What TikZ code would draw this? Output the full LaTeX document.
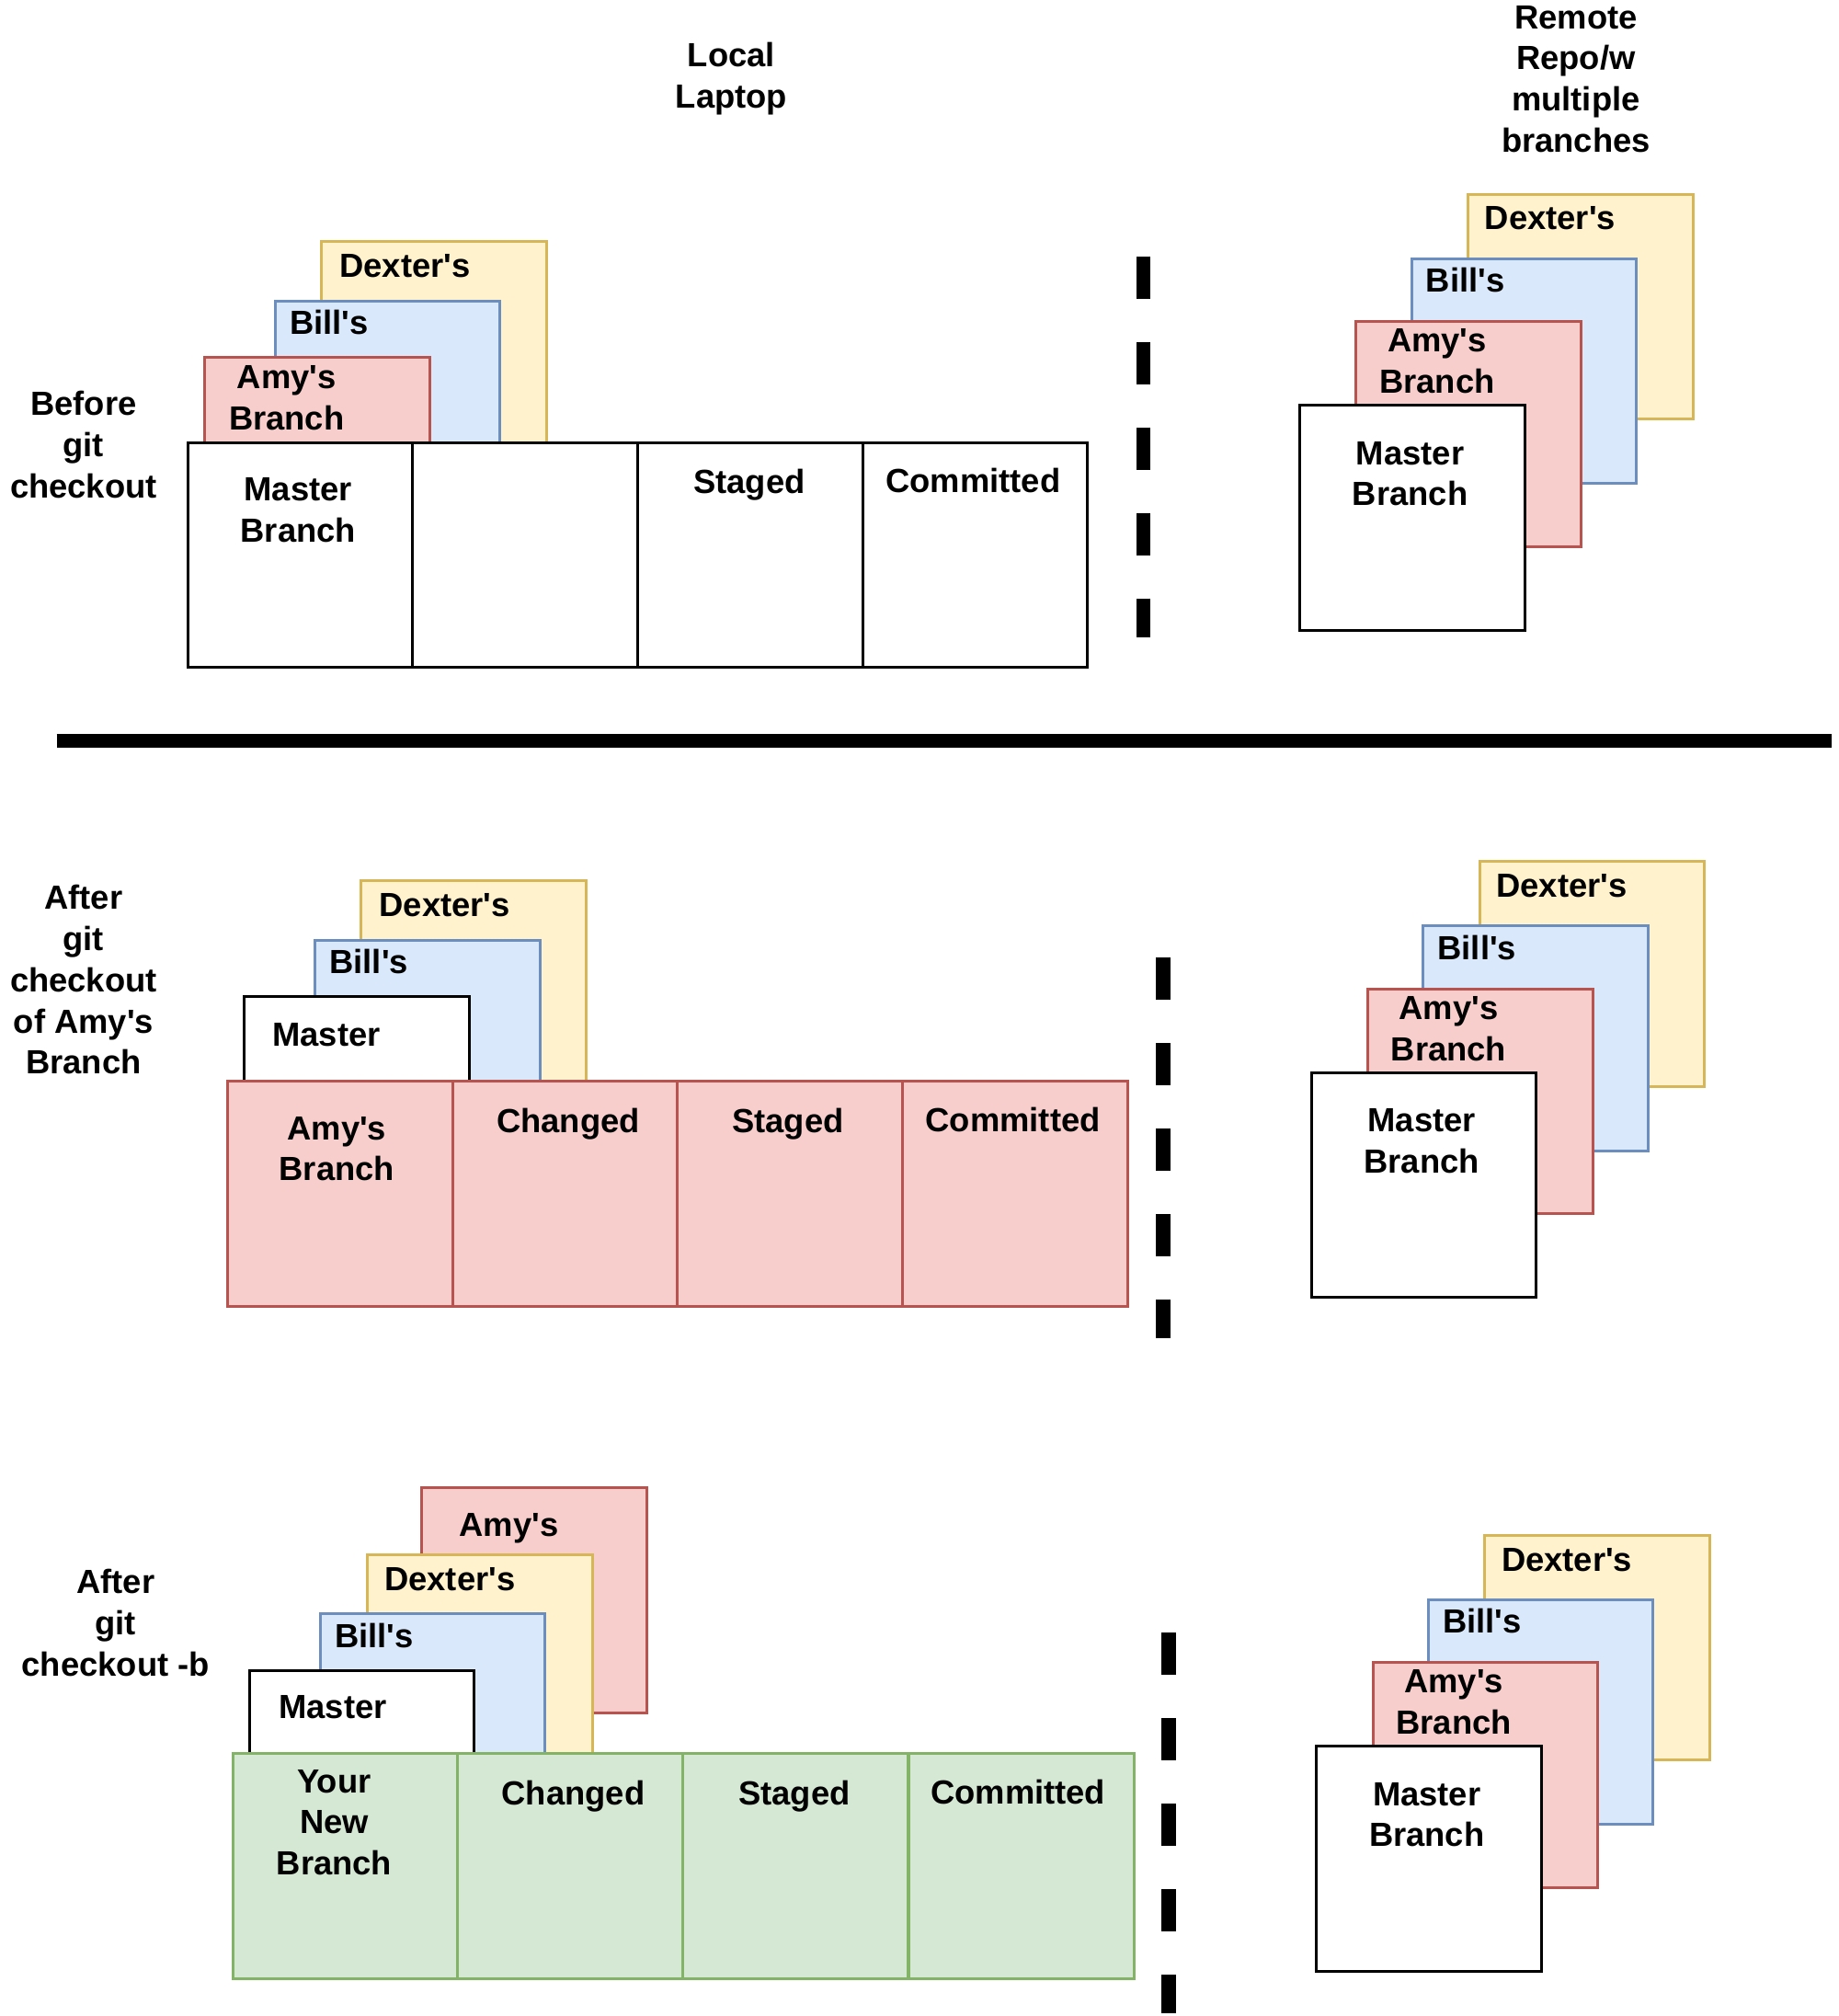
\documentclass[tikz,border=0pt]{standalone}
\usepackage{fontspec}
\setmainfont{Liberation Sans}[Ligatures=TeXOff]
\usepackage{tikz}

\definecolor{ylwfill}{HTML}{FFF2CC}\definecolor{ylwline}{HTML}{D6B656}
\definecolor{blufill}{HTML}{DAE8FC}\definecolor{bluline}{HTML}{6C8EBF}
\definecolor{redfill}{HTML}{F8CECC}\definecolor{redline}{HTML}{B85450}
\definecolor{grnfill}{HTML}{D5E8D4}\definecolor{grnline}{HTML}{82B366}

\begin{document}
\begin{tikzpicture}[x=1.3986pt,y=-1.3986pt,
    box/.style={draw=black,fill=white,line width=3pt,anchor=north west,inner sep=0pt,
      minimum width=244.8pt,minimum height=244.8pt},
    yel/.style={box,draw=ylwline,fill=ylwfill},
    blu/.style={box,draw=bluline,fill=blufill},
    red/.style={box,draw=redline,fill=redfill},
    grn/.style={box,draw=grnline,fill=grnfill},
    txt/.style={font=\bfseries\fontsize{36.4}{44.8}\selectfont,align=center,inner sep=0pt},
    sep/.style={line width=16pt,dash pattern=on 46pt off 47pt}]
  \useasboundingbox (0,0) rectangle (1430,1568);

  % headings
  \node[txt] (loc) at (569,61.5) {Local\\Laptop};
  \node[txt] (rem) at (1226,61.5) {Remote\\Repo/w\\multiple\\branches};

  % before checkout
  \node[txt] (s1) at (65,346) {Before\\git\\checkout};
  \node[yel] (d1) at (249,187) {}; \node[txt] (td1) at (315,207) {Dexter's};
  \node[blu] (b1) at (213,233) {}; \node[txt] (tb1) at (256,251) {Bill's};
  \node[red] (a1) at (158,277) {}; \node[txt] (ta1) at (223,309.5) {Amy's\\Branch};
  \foreach \x/\n in {145/1,320/2,495/3,670/4}
    \node[box] (c1\n) at (\x,343) {};
  \node[txt] (tc11) at (232,397) {Master\\Branch};
  \node[txt] (tc13) at (583,377) {Staged};
  \node[txt] (tc14) at (757,374) {Committed};

  \coordinate (l) at (44,576); \coordinate (r) at (1425,576);
  \draw[line width=15pt] (l) -- (r);

  % after checkout of Amy's branch
  \node[txt] (s2) at (65,762) {After\\git\\checkout\\of Amy's\\Branch};
  \node[yel] (d2) at (280,684) {}; \node[txt] (td2) at (346,704) {Dexter's};
  \node[blu] (b2) at (244,730) {}; \node[txt] (tb2) at (287,748) {Bill's};
  \node[box] (m2) at (189,774) {}; \node[txt] (tm2) at (254,805) {Master};
  \foreach \x/\n in {176/1,351/2,526/3,701/4}
    \node[red] (c2\n) at (\x,840) {};
  \node[txt] (tc21) at (262,893.5) {Amy's\\Branch};
  \node[txt] (tc22) at (442,874) {Changed};
  \node[txt] (tc23) at (613,874) {Staged};
  \node[txt] (tc24) at (788,871) {Committed};

  % after checkout -b
  \node[txt] (s3) at (90,1262) {After\\git\\checkout -b};
  \node[red] (a3) at (327,1156) {}; \node[txt] (ta3) at (396,1189) {Amy's};
  \node[yel] (d3) at (285,1208) {}; \node[txt] (td3) at (350,1228) {Dexter's};
  \node[blu] (b3) at (248,1254) {}; \node[txt] (tb3) at (291,1272) {Bill's};
  \node[box] (m3) at (193,1298) {}; \node[txt] (tm3) at (259,1328) {Master};
  \foreach \x/\n in {180/1,355/2,530/3,706/4}
    \node[grn] (c3\n) at (\x,1363) {};
  \node[txt] (tc31) at (260,1417.5) {Your\\New\\Branch};
  \node[txt] (tc32) at (446,1397) {Changed};
  \node[txt] (tc33) at (618,1397) {Staged};
  \node[txt] (tc34) at (792,1394) {Committed};

  % separators
  \foreach \x/\y/\p in {889.5/199.5/1,905/745/2,909/1270/3}{
    \coordinate (p\p) at (\x,\y); \coordinate (q\p) at (\x,\y+296);
    \draw[sep] (p\p) -- (q\p);
  }

  % remote repo
  \foreach \x/\y/\p in {1010/314/1,1019/833/2,1023/1357/3}{
    \node[yel] (rd\p) at (\x+131,\y-164) {};
    \node[blu] (rb\p) at (\x+87,\y-114) {};
    \node[red] (ra\p) at (\x+44,\y-65) {};
    \node[box] (rm\p) at (\x,\y) {};
    \node[txt] (trd\p) at (\x+196,\y-144) {Dexter's};
    \node[txt] (trb\p) at (\x+130,\y-96) {Bill's};
    \node[txt] (tra\p) at (\x+108,\y-33) {Amy's\\Branch};
    \node[txt] (trm\p) at (\x+87,\y+54.5) {Master\\Branch};
  }
\end{tikzpicture}
\end{document}
